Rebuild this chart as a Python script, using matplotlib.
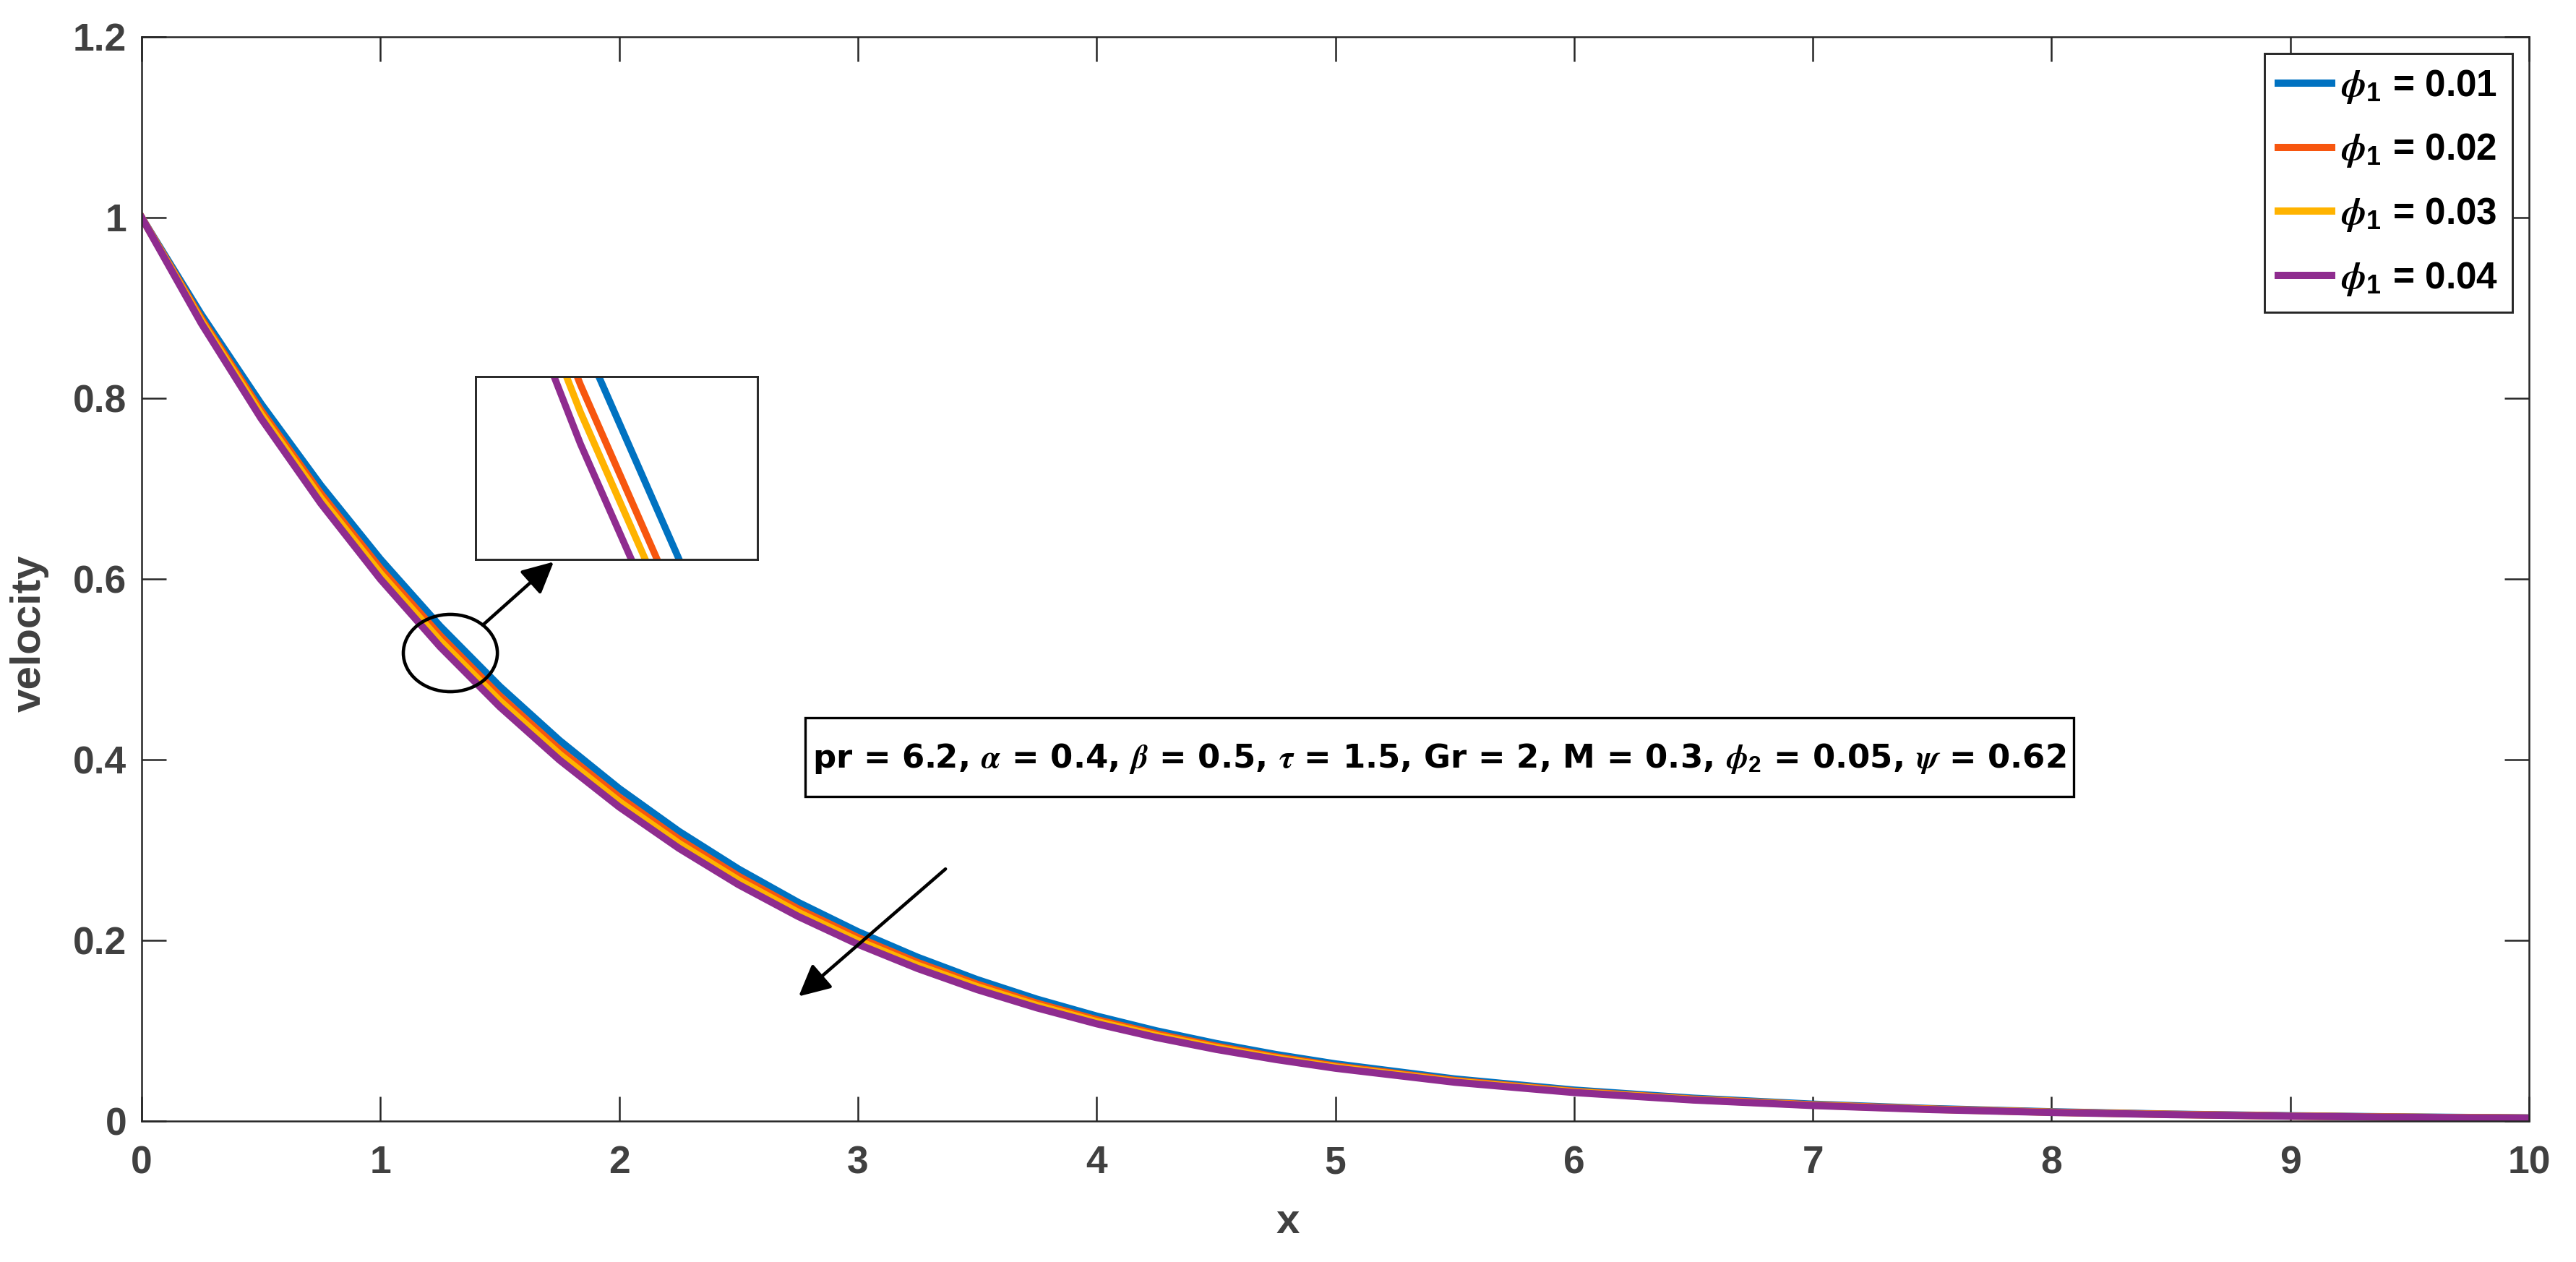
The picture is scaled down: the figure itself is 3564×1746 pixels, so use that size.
import matplotlib
matplotlib.use("Agg")
import matplotlib.pyplot as plt
from matplotlib.patches import Ellipse, Rectangle

plt.rcParams['font.family'] = ['Liberation Sans', 'DejaVu Sans']
plt.rcParams['font.weight'] = 'bold'
plt.rcParams['mathtext.fontset'] = 'custom'
plt.rcParams['mathtext.rm'] = 'Liberation Sans:bold'
plt.rcParams['mathtext.bf'] = 'Liberation Sans:bold'
plt.rcParams['mathtext.it'] = 'STIXGeneral:italic'
plt.rcParams['mathtext.default'] = 'it'

# ---------------- data ----------------
x = [0, 0.25, 0.5, 0.75, 1.0, 1.25, 1.5, 1.75, 2.0, 2.25, 2.5, 2.75, 3.0, 3.25, 3.5,
     3.75, 4.0, 4.25, 4.5, 4.75, 5.0, 5.5, 6.0, 6.5, 7.0, 7.5, 8.0, 8.5, 9.0, 9.5, 10.0]

vel_phi1_001 = [1.0, 0.8926, 0.7939, 0.7037, 0.6218, 0.5477, 0.4810, 0.4213, 0.3680, 0.3207,
                0.2789, 0.2420, 0.2096, 0.1813, 0.1565, 0.1349, 0.1162, 0.0999, 0.0859, 0.0737,
                0.0633, 0.0466, 0.0343, 0.0253, 0.0187, 0.0138, 0.0103, 0.0077, 0.0059, 0.0045, 0.0035]
vel_phi1_002 = [1.0, 0.8882, 0.7865, 0.6945, 0.6117, 0.5373, 0.4706, 0.4113, 0.3586, 0.3120,
                0.2710, 0.2348, 0.2032, 0.1755, 0.1514, 0.1304, 0.1122, 0.0965, 0.0829, 0.0711,
                0.0610, 0.0449, 0.0330, 0.0243, 0.0180, 0.0133, 0.0099, 0.0075, 0.0056, 0.0043, 0.0033]
vel_phi1_003 = [1.0, 0.8857, 0.7825, 0.6896, 0.6062, 0.5316, 0.4651, 0.4060, 0.3536, 0.3074,
                0.2667, 0.2310, 0.1997, 0.1724, 0.1487, 0.1280, 0.1101, 0.0946, 0.0813, 0.0698,
                0.0598, 0.0440, 0.0324, 0.0238, 0.0176, 0.0130, 0.0097, 0.0073, 0.0055, 0.0042, 0.0033]
vel_phi1_004 = [1.0, 0.8829, 0.7778, 0.6838, 0.5998, 0.5250, 0.4586, 0.3997, 0.3477, 0.3020,
                0.2617, 0.2265, 0.1957, 0.1689, 0.1455, 0.1253, 0.1077, 0.0925, 0.0794, 0.0682,
                0.0585, 0.0430, 0.0316, 0.0233, 0.0172, 0.0127, 0.0095, 0.0071, 0.0054, 0.0041, 0.0032]

series = [vel_phi1_001, vel_phi1_002, vel_phi1_003, vel_phi1_004]
legend_labels = [r'$\phi_1$ = 0.01', r'$\phi_1$ = 0.02', r'$\phi_1$ = 0.03', r'$\phi_1$ = 0.04']
colors = ['#0072C1', '#F7560F', '#FFB300', '#8F2C8F']

xticks = [0, 1, 2, 3, 4, 5, 6, 7, 8, 9, 10]
yticks = [0, 0.2, 0.4, 0.6, 0.8, 1.0, 1.2]
ytick_labels = ['0', '0.2', '0.4', '0.6', '0.8', '1', '1.2']

param_text = (r'pr = 6.2, $\alpha$ = 0.4, $\beta$ = 0.5, $\tau$ = 1.5, Gr = 2, '
              r'M = 0.3, $\phi_2$ = 0.05, $\psi$ = 0.62')

# ---------------- figure ----------------
W, H = 3564, 1746
fig = plt.figure(figsize=(W / 300, H / 300), dpi=300)
L, R, T, B = 196, 3499, 51, 1551
ax = fig.add_axes([L / W, 1 - B / H, (R - L) / W, (B - T) / H])

for y, c, lab in zip(series, colors, legend_labels):
    ax.plot(x, y, color=c, lw=2.4, label=lab)

ax.set_xlim(0, 10)
ax.set_ylim(0, 1.2)
ax.set_xticks(xticks)
ax.set_xticklabels([str(t) for t in xticks])
ax.set_yticks(yticks)
ax.set_yticklabels(ytick_labels)
ax.tick_params(direction='in', length=8.2, width=0.6, top=True, right=True,
               color='#262626', labelcolor='#404040', labelsize=12.8)
ax.tick_params(axis='x', pad=8)
ax.tick_params(axis='y', pad=5)
for sp in ax.spines.values():
    sp.set_linewidth(0.6)
    sp.set_color('#262626')

ax.set_xlabel('x', fontsize=14, color='#404040', fontweight='bold')
ax.set_ylabel('velocity', fontsize=14, color='#404040', fontweight='bold', va='center')
ax.xaxis.set_label_coords(0.48, -0.075)
ax.yaxis.set_label_coords(-0.047, 0.45)

leg = ax.legend(loc='upper right', prop={'size': 12.3, 'weight': 'bold'}, frameon=True,
                fancybox=False, edgecolor='#262626', framealpha=1, borderaxespad=0.45,
                handlelength=1.45, handletextpad=0.25, labelspacing=0.72, borderpad=0.38)
leg.get_frame().set_linewidth(0.7)

# zoom circle and arrows
ax.add_patch(Ellipse((1.293, 0.518), 0.394, 0.0856, fill=False, ec='black', lw=1.1, zorder=5))
ax.annotate('', xy=(1.726, 0.619), xytext=(1.429, 0.549),
            arrowprops=dict(arrowstyle='-|>', color='black', lw=1.1, mutation_scale=22,
                            shrinkA=0, shrinkB=0))
ax.annotate('', xy=(2.752, 0.138), xytext=(3.367, 0.279),
            arrowprops=dict(arrowstyle='-|>', color='black', lw=1.1, mutation_scale=22,
                            shrinkA=0, shrinkB=0))

# parameter box
ax.add_patch(Rectangle((2.779, 0.3592), 8.093 - 2.779, 0.4464 - 0.3592, fc='white',
                       ec='black', lw=0.8, zorder=6))
ax.text((2.779 + 8.093) / 2, 0.401, param_text, ha='center', va='center', fontsize=10.8,
        fontweight='bold', family=['DejaVu Sans'], color='black', zorder=7)

# inset zoom axes
ia = fig.add_axes([658 / W, 1 - 774 / H, (1048 - 658) / W, (774 - 521) / H])
for y, c in zip(series, colors):
    ia.plot(x, y, color=c, lw=2.3)
ia.set_xlim(1.064, 1.564)
ia.set_ylim(0.501, 0.539)
ia.set_xticks([])
ia.set_yticks([])
for sp in ia.spines.values():
    sp.set_linewidth(0.7)
    sp.set_color('#262626')

fig.savefig('out.png', dpi=300)
